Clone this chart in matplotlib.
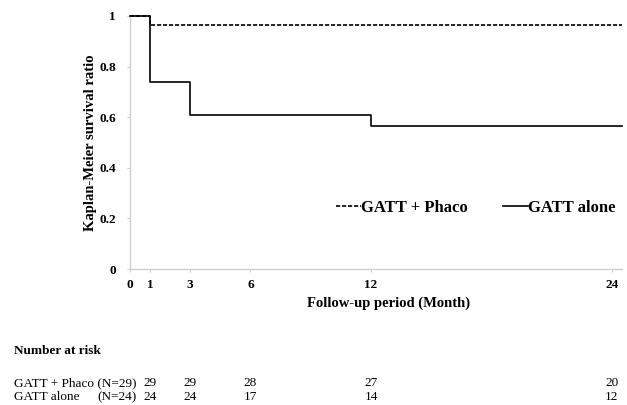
import matplotlib.pyplot as plt
from matplotlib.transforms import blended_transform_factory

# Kaplan-Meier steps (month, survival)
months_phaco = [0, 1, 24.5]
surv_phaco = [1.0, 0.966, 0.966]
months_alone = [0, 1, 3, 12, 24.5]
surv_alone = [1.0, 0.74, 0.609, 0.565, 0.565]

x_ticks = [0, 1, 3, 6, 12, 24]
y_ticks = [0, 0.2, 0.4, 0.6, 0.8, 1]

# number at risk table
risk_months = [1, 3, 6, 12, 24]
risk_phaco = [29, 29, 28, 27, 20]
risk_alone = [24, 24, 17, 14, 12]

plt.rcParams["font.family"] = ["Liberation Serif", "DejaVu Serif"]

W, H = 627, 405
fig = plt.figure(figsize=(W / 100, H / 100), dpi=100)
ax = fig.add_axes([130 / W, 1 - 269 / H, (622 - 130) / W, (269 - 16) / H])

ax.step(months_phaco, surv_phaco, where="post", color="black", lw=1.2,
        ls=(0, (2.5, 1.1)), label="GATT + Phaco", clip_on=False)
ax.step(months_alone, surv_alone, where="post", color="black", lw=1.2,
        label="GATT alone", clip_on=False, zorder=3)

ax.set_xlim(0, 24.5)
ax.set_ylim(0, 1)
ax.set_xticks(x_ticks)
ax.set_yticks(y_ticks)
ax.set_yticklabels(["0", "0.2", "0.4", "0.6", "0.8", "1"])
ax.tick_params(labelsize=9.5, colors="#d0d0d0", length=2, width=0.8)
for lab in ax.get_xticklabels() + ax.get_yticklabels():
    lab.set_color("black")
    lab.set_fontweight("bold")
ax.tick_params(axis="y", pad=8)
ax.tick_params(axis="x", pad=5)

for s in ["top", "right"]:
    ax.spines[s].set_visible(False)
for s in ["left", "bottom"]:
    ax.spines[s].set_color("#d0d0d0")
    ax.spines[s].set_linewidth(1.0)

ax.set_ylabel("Kaplan-Meier survival ratio", fontsize=10.5, fontweight="bold")
ax.yaxis.set_label_coords(-0.068, 0.5)
ax.set_xlabel("Follow-up period (Month)", fontsize=10.5, fontweight="bold")
ax.xaxis.set_label_coords(0.525, -0.11)

leg = ax.legend(ncol=2, frameon=False, loc="center right",
                bbox_to_anchor=(1.017, 0.24), handlelength=1.5,
                handletextpad=0.0, columnspacing=2.1,
                prop={"size": 12, "weight": "bold"})

# number at risk
fig.text(14 / W, 1 - 351 / H, "Number at risk", fontsize=9.5,
         fontweight="bold", va="center")
rows = [("GATT + Phaco (N=29)", "", risk_phaco, 383),
        ("GATT alone", "(N=24)", risk_alone, 397)]
trans = blended_transform_factory(ax.transData, fig.transFigure)
for name, n, vals, ypx in rows:
    fy = 1 - ypx / H
    fig.text(14 / W, fy, name, fontsize=9.5, va="center")
    if n:
        fig.text(137 / W, fy, n, fontsize=9.5, va="center", ha="right")
    for m, v in zip(risk_months, vals):
        ax.text(m, fy, str(v), fontsize=9.5, va="center", ha="center",
                transform=trans, clip_on=False)

fig.savefig("out.png", dpi=100)
